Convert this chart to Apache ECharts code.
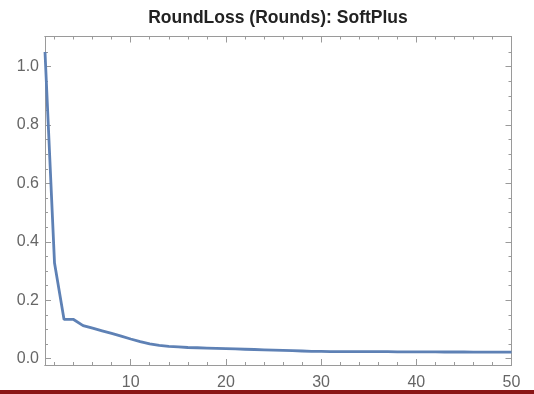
<!DOCTYPE html>
<html>
<head>
<meta charset="utf-8">
<script src="https://cdn.jsdelivr.net/npm/echarts@6/dist/echarts.min.js"></script>
<style>
  html, body { margin: 0; padding: 0; background: #fff; }
  #main { width: 534px; height: 394px; }
</style>
</head>
<body>
<div id="main"></div>
<script>
// 数据：每轮的损失值
const rounds = [];
for (let i = 1; i <= 50; i++) rounds.push(i);
const loss = [
  1.05, 0.327, 0.134, 0.134, 0.113, 0.104, 0.095, 0.086, 0.077, 0.067,
  0.058, 0.050, 0.045, 0.042, 0.040, 0.038, 0.037, 0.036, 0.035, 0.034,
  0.033, 0.032, 0.031, 0.030, 0.029, 0.028, 0.027, 0.026, 0.025, 0.025,
  0.024, 0.024, 0.024, 0.024, 0.0235, 0.0235, 0.0235, 0.023, 0.023, 0.023,
  0.023, 0.023, 0.0225, 0.0225, 0.0225, 0.022, 0.022, 0.022, 0.022, 0.022
];
const xMajor = [10, 20, 30, 40, 50];
const xMinor = [2, 4, 6, 8, 12, 14, 16, 18, 22, 24, 26, 28, 32, 34, 36, 38, 42, 44, 46, 48];
const yMajor = [0, 0.2, 0.4, 0.6, 0.8, 1.0];
const yMinor = [0.05, 0.1, 0.15, 0.25, 0.3, 0.35, 0.45, 0.5, 0.55, 0.65, 0.7, 0.75, 0.85, 0.9, 0.95, 1.05];

const frameColor = '#9a9a9a';
const labelColor = '#666';
const font = 'Liberation Sans, Arial, sans-serif';
const gridBox = { left: 45, right: 22.5, top: 36.5, bottom: 29 };

// 主刻度放在 grid 0，次刻度放在 grid 1（两个 grid 重叠）
function xAxisDef(grid, pos, major, labels) {
  return {
    type: 'value', gridIndex: grid, position: pos, min: 1, max: 50,
    axisLine: { show: true, onZero: false, lineStyle: { color: frameColor, width: 1 } },
    axisTick: { show: true, inside: true, length: major ? 6 : 3, customValues: major ? xMajor : xMinor,
      lineStyle: { color: frameColor } },
    axisLabel: { show: labels, customValues: xMajor, color: labelColor, fontSize: 16, fontFamily: font, margin: 10 },
    splitLine: { show: false }
  };
}
function yAxisDef(grid, pos, major, labels) {
  return {
    type: 'value', gridIndex: grid, position: pos, min: -0.022, max: 1.103,
    axisLine: { show: true, onZero: false, lineStyle: { color: frameColor, width: 1 } },
    axisTick: { show: true, inside: true, length: major ? 6 : 3, customValues: major ? yMajor : yMinor,
      lineStyle: { color: frameColor } },
    axisLabel: { show: labels, customValues: yMajor, color: labelColor, fontSize: 16, fontFamily: font, margin: 6,
      formatter: v => v.toFixed(1) },
    splitLine: { show: false }
  };
}

var myChart = echarts.init(document.getElementById('main'));
var option = {
  animation: false,
  grid: [Object.assign({}, gridBox), Object.assign({}, gridBox)],
  xAxis: [
    xAxisDef(0, 'bottom', true, true),
    xAxisDef(0, 'top', true, false),
    xAxisDef(1, 'bottom', false, false),
    xAxisDef(1, 'top', false, false)
  ],
  yAxis: [
    yAxisDef(0, 'left', true, true),
    yAxisDef(0, 'right', true, false),
    yAxisDef(1, 'left', false, false),
    yAxisDef(1, 'right', false, false)
  ],
  graphic: [
    {
      type: 'text', x: 278, y: 18,
      style: { text: 'RoundLoss (Rounds): SoftPlus', fontSize: 17.5, fontWeight: 'bold', fontFamily: font,
        fill: '#222', textAlign: 'center', textVerticalAlign: 'middle' }
    },
    {
      type: 'rect', shape: { x: 0, y: 390, width: 534, height: 4 },
      style: { fill: '#8a1616' }
    }
  ],
  series: [
    {
      type: 'line',
      xAxisIndex: 0, yAxisIndex: 0,
      data: rounds.map((r, i) => [r, loss[i]]),
      showSymbol: false,
      lineStyle: { color: '#5e81b5', width: 2.8 },
      clip: true
    }
  ]
};
myChart.setOption(option);
</script>
</body>
</html>
